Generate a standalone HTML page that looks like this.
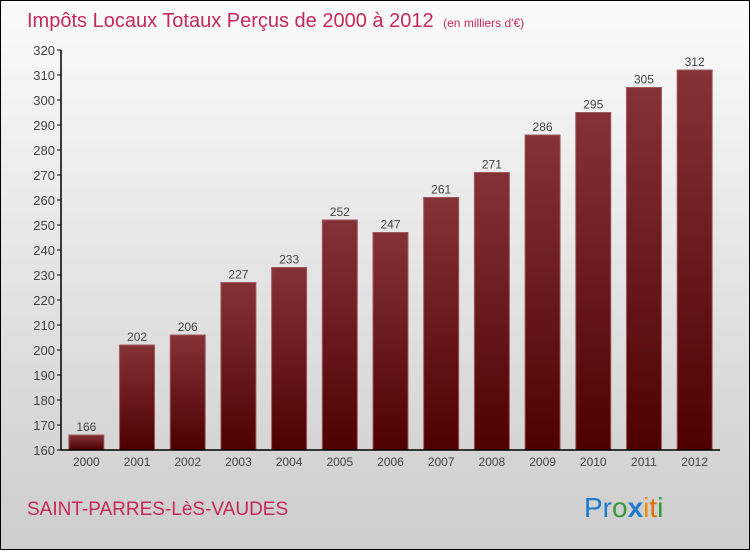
<!DOCTYPE html>
<html><head><meta charset="utf-8"><style>
html,body{margin:0;padding:0}
body{width:750px;height:550px;overflow:hidden;font-family:"Liberation Sans",sans-serif}
#wrap{position:relative;width:748px;height:548px;border:1px solid #000;background:linear-gradient(#fbfbfb,#cdcdcd)}
</style></head><body>
<div id="wrap">
<svg id="chart" width="748" height="548">
<defs>
<linearGradient id="bg" x1="0" y1="0" x2="0" y2="1"><stop offset="0" stop-color="#853237"/><stop offset="1" stop-color="#4e0000"/></linearGradient>
</defs>
<text x="26" y="26" font-size="20" fill="#c8285a">Impôts Locaux Totaux Perçus de 2000 à 2012 <tspan font-size="12" dx="4">(en milliers d'€)</tspan></text>
<text x="26" y="514" font-size="19" fill="#c8285a">SAINT-PARRES-LèS-VAUDES</text>
<text x="583" y="516" font-size="28"><tspan fill="#1e7ad0">Pr</tspan><tspan fill="#3a9a3a">o</tspan><tspan fill="#1e7ad0" font-weight="bold">x</tspan><tspan fill="#f08a00">i</tspan><tspan fill="#e07000">t</tspan><tspan fill="#2a9a3a">i</tspan></text>
<g id="plot"></g>
</svg>
</div>
<script>
const categories=["2000","2001","2002","2003","2004","2005","2006","2007","2008","2009","2010","2011","2012"];
const values=[166,202,206,227,233,252,247,261,271,286,295,305,312];
const yTicks=[160,170,180,190,200,210,220,230,240,250,260,270,280,290,300,310,320];
const NS="http://www.w3.org/2000/svg";
const g=document.getElementById("plot");
const x0=60,x1=719,yTop=49,yBot=449,vMin=160,vMax=320;
const band=(x1-x0)/categories.length;
const y=v=>yBot-(v-vMin)/(vMax-vMin)*(yBot-yTop);
const xc=i=>x0+band*(i+0.5);
function mk(tag,attrs,text){const e=document.createElementNS(NS,tag);for(const k in attrs)e.setAttribute(k,attrs[k]);if(text!==undefined)e.textContent=text;g.appendChild(e);return e;}
yTicks.forEach(t=>{
 const l=mk("line",{x1:x0-4,x2:x0,y1:y(t),y2:y(t),stroke:"#000"});
 
 
 const tx=mk("text",{x:x0-6,y:y(t)+5,"text-anchor":"end","font-size":"13",fill:"#444"},t);
 
 
});
values.forEach((v,i)=>{
 const r=mk("rect",{x:xc(i)-17.5,y:y(v),width:35,height:yBot-y(v),fill:"url(#bg)",stroke:"#a05a5e","stroke-width":"1"});
 
 
 const t=mk("text",{x:xc(i),y:y(v)-4,"text-anchor":"middle","font-size":"12",fill:"#444"},v);
 
 
 const c=mk("text",{x:xc(i),y:yBot+16,"text-anchor":"middle","font-size":"12",fill:"#444"},categories[i]);
 
 
});
const ya=mk("line",{x1:x0,x2:x0,y1:yTop,y2:yBot,stroke:"#000","stroke-width":"1.5"});


const xa=mk("line",{x1:x0,x2:x1,y1:yBot,y2:yBot,stroke:"#000","stroke-width":"1.5"});


</script>
</body></html>
